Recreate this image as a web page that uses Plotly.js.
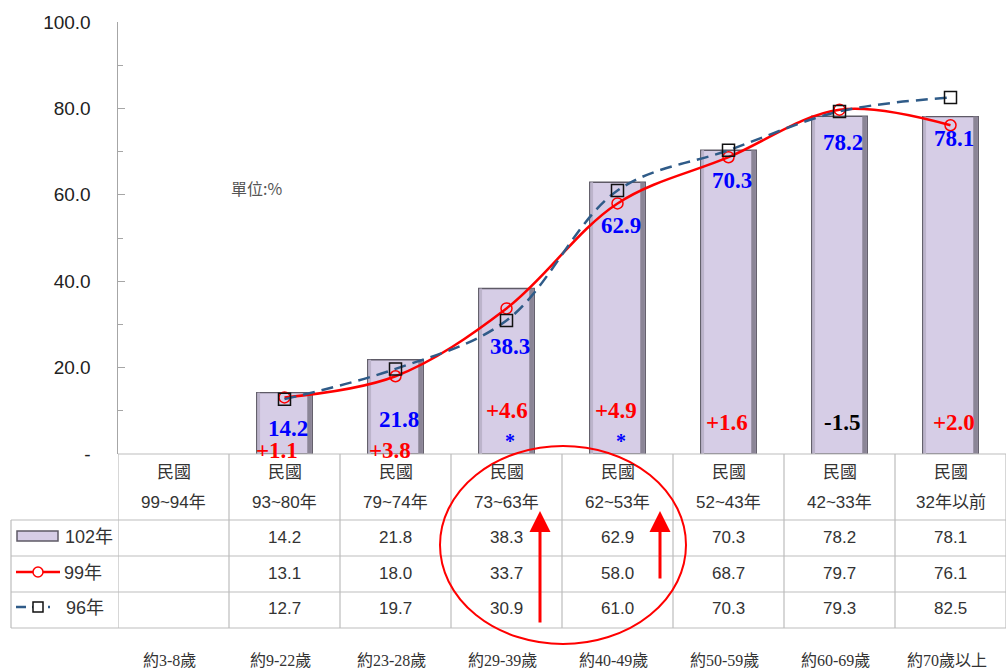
<!DOCTYPE html>
<html>
<head>
<meta charset="utf-8">
<script src="https://cdn.plot.ly/plotly-3.0.1.min.js"></script>
<style>html,body{margin:0;padding:0;background:#fff;}#chart{width:1006px;height:670px;}</style>
</head>
<body>
<div id="chart"></div>
<script>
// ---- data ----
const periods = ['99~94年','93~80年','79~74年','73~63年','62~53年','52~43年','42~33年','32年以前'];
const headerTop = '民國';
const ages = ['約3-8歲','約9-22歲','約23-28歲','約29-39歲','約40-49歲','約50-59歲','約60-69歲','約70歲以上'];
const seriesNames = ['102年','99年','96年'];
const y102 = [null,14.2,21.8,38.3,62.9,70.3,78.2,78.1];
const y99  = [null,13.1,18.0,33.7,58.0,68.7,79.7,76.1];
const y96  = [null,12.7,19.7,30.9,61.0,70.3,79.3,82.5];
const starred = [false,false,false,true,true,false,false,false];
const yTickVals = [0,20,40,60,80,100];
const yTickText = ['-','20.0','40.0','60.0','80.0','100.0'];
const unitLabel = '單位:%';

// ---- layout helpers (pixel -> paper) ----
const L = 118, R = 1006, T = 22, B = 454;
const px = x => (x - L) / (R - L);
const py = y => (B - y) / (B - T);
const xs = periods.map((_, i) => i);

// label placement (data units / pixel shifts)
const valLabelY = [null,6.0,7.9,24.8,52.8,63.4,72.2,73.1];
const diffLabelY = [null,0.9,0.9,10.0,10.0,7.4,7.4,7.4];
const diffShift = [0,-8,-6,0,-2,-2,2,3];

const barFill = '#d6cde6';
const traces = [
  {type:'bar', x:xs, y:y102, name:seriesNames[0], width:0.5,
   marker:{color:barFill, line:{color:'#5e5a66', width:1.4}}, hoverinfo:'skip'},
  {type:'bar', x:xs, y:y102, width:0.04, offset:0.205, showlegend:false,
   marker:{color:'#8b8596', line:{width:0}}, hoverinfo:'skip'},
  {type:'bar', x:xs, y:y102, width:0.025, offset:-0.245, showlegend:false,
   marker:{color:'#bcb4cb', line:{width:0}}, hoverinfo:'skip'},
  {type:'scatter', mode:'lines+markers', x:xs, y:y99, name:seriesNames[1],
   line:{color:'#ff0000', width:2.5, shape:'spline', smoothing:1},
   marker:{symbol:'circle-open', size:11, color:'#ff0000', line:{width:1.5}}},
  {type:'scatter', mode:'lines+markers', x:xs, y:y96, name:seriesNames[2],
   line:{color:'#2f5b88', width:2.5, dash:'12px,7px', shape:'spline', smoothing:1},
   marker:{symbol:'square-open', size:12, color:'#111', line:{width:1.5}}}
];

const ann = [];
const shapes = [];
const tableFont = {family:'Liberation Sans, Arial, Noto Sans CJK TC', size:17, color:'#333'};
const A = o => Object.assign({showarrow:false, xanchor:'center', yanchor:'middle'}, o);

// value + diff labels
xs.forEach(i => {
  if (y102[i] == null) return;
  ann.push(A({x:i, y:valLabelY[i], xref:'x', yref:'y', text:y102[i].toFixed(1), xshift:3,
    font:{family:'Liberation Serif, Times New Roman', size:23, color:'#0000ff', weight:'bold'}}));
  const d = y102[i] - y99[i];
  const dt = (d >= 0 ? '+' : '') + d.toFixed(1);
  ann.push(A({x:i, y:diffLabelY[i], xref:'x', yref:'y', text:dt, xshift:diffShift[i],
    font:{family:'Liberation Serif, Times New Roman', size:23, color: d >= 0 ? '#ff0000' : '#000', weight:'bold'}}));
  if (starred[i]) ann.push(A({x:i, y:3.0, xref:'x', yref:'y', text:'*', xshift:3,
    font:{family:'Liberation Serif', size:20, color:'#0000ff', weight:'bold'}}));
});

// unit label
ann.push(A({x:px(256), y:py(188), xref:'paper', yref:'paper', text:unitLabel,
  font:{family:'Noto Sans CJK TC', size:16, color:'#555'}}));

// table headers, values, ages
const rowY = [537, 573, 608];
const seriesData = [y102, y99, y96];
xs.forEach(i => {
  ann.push(A({x:i, y:py(472), xref:'x', yref:'paper', text:headerTop, font:tableFont}));
  ann.push(A({x:i, y:py(502), xref:'x', yref:'paper', text:periods[i], font:tableFont}));
  seriesData.forEach((s, r) => {
    if (s[i] != null) ann.push(A({x:i, y:py(rowY[r]), xref:'x', yref:'paper', text:s[i].toFixed(1), font:tableFont}));
  });
  ann.push(A({x:i, y:py(660), xref:'x', yref:'paper', text:ages[i], xshift:-4,
    font:{family:'Liberation Serif, Noto Sans CJK TC', size:16, color:'#333'}}));
});
// legend labels in table
seriesNames.forEach((n, r) => {
  ann.push(A({x:px(r === 0 ? 63 : (r === 1 ? 62 : 64)), y:py(rowY[r]), xref:'paper', yref:'paper', xanchor:'left', text:n,
    font:{family:'Liberation Sans, Noto Sans CJK TC', size:18, color:'#333'}}));
});

// table grid
const gc = '#bdbdbd';
for (let k = 0; k <= 8; k++) {
  shapes.push({type:'line', xref:'x', yref:'paper', x0:k-0.5, x1:k-0.5, y0:py(454), y1:py(628), line:{color:gc, width:1.2}});
}
shapes.push({type:'line', xref:'paper', yref:'paper', x0:px(11), x1:px(11), y0:py(520), y1:py(628), line:{color:gc, width:1.2}});
shapes.push({type:'line', xref:'paper', yref:'paper', x0:0, x1:1, y0:py(454), y1:py(454), line:{color:gc, width:1.2}});
[520, 556, 592, 628].forEach(y => shapes.push({type:'line', xref:'paper', yref:'paper', x0:px(11), x1:1, y0:py(y), y1:py(y), line:{color:gc, width:1.2}}));

// legend symbols
shapes.push({type:'rect', xref:'paper', yref:'paper', x0:px(17), x1:px(58), y0:py(541), y1:py(531), fillcolor:barFill, line:{color:'#5e5a66', width:1.5}});
shapes.push({type:'line', xref:'paper', yref:'paper', x0:px(16), x1:px(60), y0:py(572), y1:py(572), line:{color:'#ff0000', width:2.5}});
shapes.push({type:'circle', xref:'paper', yref:'paper', x0:px(33), x1:px(43), y0:py(567), y1:py(577), fillcolor:'#fff', line:{color:'#ff0000', width:1.5}});
shapes.push({type:'line', xref:'paper', yref:'paper', x0:px(16), x1:px(50), y0:py(607), y1:py(607), line:{color:'#2f5b88', width:2.5, dash:'10px,6px'}});
shapes.push({type:'rect', xref:'paper', yref:'paper', x0:px(33), x1:px(43), y0:py(602), y1:py(612), fillcolor:'#fff', line:{color:'#111', width:1.5}});

// red ellipse + arrows
shapes.push({type:'circle', xref:'paper', yref:'paper', x0:px(440), x1:px(686), y0:py(446), y1:py(644), line:{color:'#ff0000', width:2}});
ann.push({x:px(540), y:py(511), xref:'paper', yref:'paper', text:'', showarrow:true, ax:0, ay:113, arrowcolor:'#ff0000', arrowwidth:3, arrowhead:2, arrowsize:1.4});
ann.push({x:px(660), y:py(511), xref:'paper', yref:'paper', text:'', showarrow:true, ax:0, ay:69, arrowcolor:'#ff0000', arrowwidth:3, arrowhead:2, arrowsize:1.4});

const layout = {
  width:1006, height:670,
  margin:{l:L, r:1006-R, t:T, b:670-B, pad:0},
  paper_bgcolor:'#fff', plot_bgcolor:'#fff',
  showlegend:false,
  barmode:'overlay',
  xaxis:{range:[-0.5,7.5], showticklabels:false, ticks:'', showgrid:false, zeroline:false, showline:false, fixedrange:true},
  yaxis:{range:[0,100], tickvals:yTickVals, ticktext:yTickText, ticks:'inside', ticklen:7, tickcolor:'#a6a6a6',
    showline:true, linecolor:'#a6a6a6', linewidth:1.5, showgrid:false, zeroline:false, ticklabelstandoff:22,
    tickfont:{family:'Liberation Sans, Arial', size:19, color:'#222'},
    minor:{tickvals:[10,30,50,70,90], ticks:'inside', ticklen:5, tickcolor:'#a6a6a6'}},
  annotations:ann,
  shapes:shapes
};

Plotly.newPlot('chart', traces, layout, {displayModeBar:false, staticPlot:true});
</script>
</body>
</html>
